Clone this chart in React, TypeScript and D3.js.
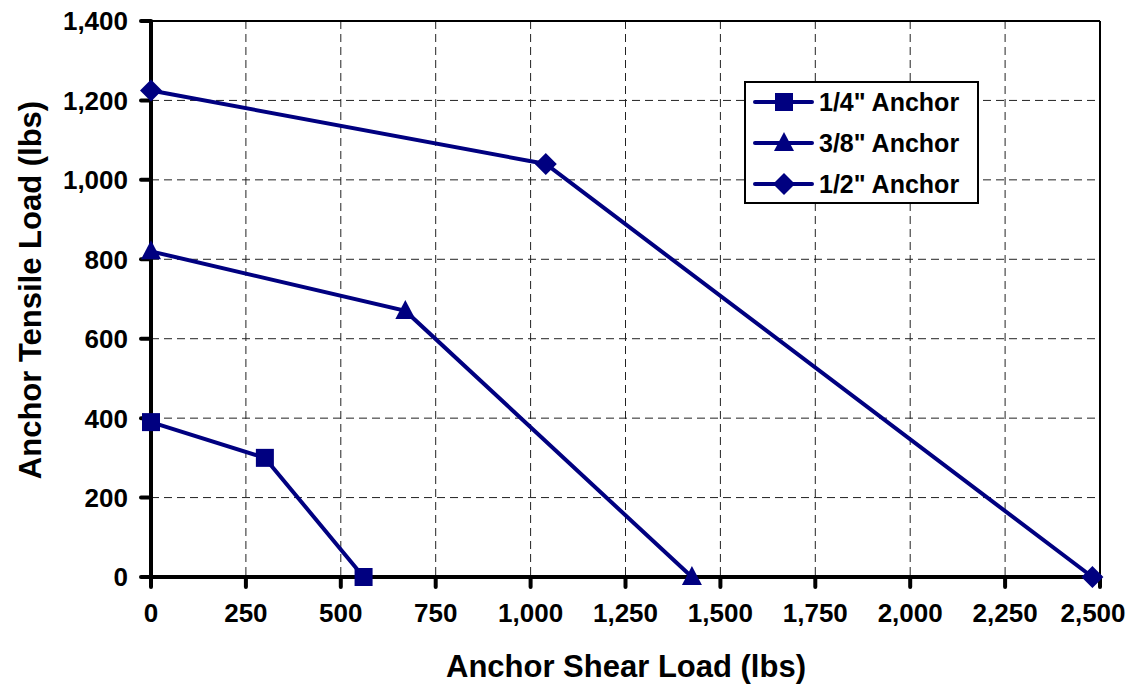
import React from "react";
import * as d3 from "d3";

const seriesNames = ['1/4" Anchor', '3/8" Anchor', '1/2" Anchor'];
const quarterX = [0, 300, 560];
const quarterY = [390, 300, 0];
const threeEighthX = [0, 670, 1425];
const threeEighthY = [820, 670, 0];
const halfX = [0, 1040, 2480];
const halfY = [1225, 1040, 0];
const xTicks = [0, 250, 500, 750, 1000, 1250, 1500, 1750, 2000, 2250, 2500];
const yTicks = [0, 200, 400, 600, 800, 1000, 1200, 1400];
const markerTypes = ["square", "triangle", "diamond"];

const W = 1143, H = 692;
const left = 151, right = 1100, top = 21, bottom = 577;
const NAVY = "#000080";
const FONT = "'Liberation Sans', Arial, sans-serif";

function Marker({ type, x, y }: { type: string; x: number; y: number }) {
  if (type === "square") {
    return <rect x={x - 9} y={y - 9} width={18} height={18} fill={NAVY} />;
  }
  if (type === "triangle") {
    const p = d3.path();
    p.moveTo(x, y - 11);
    p.lineTo(x + 10, y + 8);
    p.lineTo(x - 10, y + 8);
    p.closePath();
    return <path d={p.toString()} fill={NAVY} />;
  }
  const p = d3.path();
  p.moveTo(x, y - 11);
  p.lineTo(x + 11, y);
  p.lineTo(x, y + 11);
  p.lineTo(x - 11, y);
  p.closePath();
  return <path d={p.toString()} fill={NAVY} />;
}

export default function App() {
  const xs = d3.scaleLinear().domain([0, 2500]).range([left, right]);
  const ys = d3.scaleLinear().domain([0, 1400]).range([bottom, top]);
  const fmt = d3.format(",");
  const series = [
    { xs: quarterX, ys: quarterY },
    { xs: threeEighthX, ys: threeEighthY },
    { xs: halfX, ys: halfY },
  ];
  const line = d3
    .line<[number, number]>()
    .x((d) => xs(d[0]))
    .y((d) => ys(d[1]));

  return (
    <svg
      width={W}
      height={H}
      style={{ position: "absolute", left: 0, top: 0, background: "#fff" }}
      fontFamily={FONT}
    >
      <rect x={0} y={0} width={W} height={H} fill="#fff" />
      {/* grid */}
      {xTicks.slice(1, -1).map((t) => (
        <line key={"gx" + t} x1={xs(t)} x2={xs(t)} y1={top} y2={bottom} stroke="#222" strokeWidth={1} strokeDasharray="8,5" />
      ))}
      {yTicks.slice(1, -1).map((t) => (
        <line key={"gy" + t} x1={left} x2={right} y1={ys(t)} y2={ys(t)} stroke="#222" strokeWidth={1} strokeDasharray="8,5" />
      ))}
      {/* borders */}
      <line x1={left} x2={right} y1={top} y2={top} stroke="#000" strokeWidth={2} />
      <line x1={right} x2={right} y1={top} y2={bottom} stroke="#000" strokeWidth={2} />
      {/* axes */}
      <line x1={left} x2={left} y1={top - 1} y2={bottom + 2} stroke="#000" strokeWidth={4} />
      <line x1={left - 2} x2={right + 1} y1={bottom} y2={bottom} stroke="#000" strokeWidth={4} />
      {yTicks.map((t) => (
        <g key={"yt" + t}>
          <line x1={left - 10} x2={left} y1={ys(t)} y2={ys(t)} stroke="#000" strokeWidth={4} strokeLinecap="round" />
          <text x={128} y={ys(t)} dy="0.36em" textAnchor="end" fontSize={26} fontWeight="bold">
            {fmt(t)}
          </text>
        </g>
      ))}
      {xTicks.map((t) => (
        <g key={"xt" + t}>
          <line x1={xs(t)} x2={xs(t)} y1={bottom} y2={bottom + 10} stroke="#000" strokeWidth={4} strokeLinecap="round" />
          <text x={xs(t) - (t === 2500 ? 7 : 0)} y={622} textAnchor="middle" fontSize={26} fontWeight="bold">
            {fmt(t)}
          </text>
        </g>
      ))}
      <text x={626} y={677} textAnchor="middle" fontSize={31} fontWeight="bold">
        Anchor Shear Load (lbs)
      </text>
      <text transform={`translate(41,290) rotate(-90)`} textAnchor="middle" fontSize={31} fontWeight="bold">
        Anchor Tensile Load (lbs)
      </text>
      {/* series */}
      {series.map((s, i) => {
        const pts = s.xs.map((x, j) => [x, s.ys[j]] as [number, number]);
        return (
          <g key={"s" + i}>
            <path d={line(pts) || ""} fill="none" stroke={NAVY} strokeWidth={4} />
            {pts.map((p, j) => (
              <Marker key={j} type={markerTypes[i]} x={xs(p[0])} y={ys(p[1])} />
            ))}
          </g>
        );
      })}
      {/* legend */}
      <rect x={745} y={82} width={233} height={121} fill="#fff" stroke="#000" strokeWidth={2} />
      {seriesNames.map((n, i) => {
        const y = 102 + i * 41;
        return (
          <g key={"lg" + i}>
            <line x1={755} x2={812} y1={y} y2={y} stroke={NAVY} strokeWidth={4} strokeLinecap="round" />
            <Marker type={markerTypes[i]} x={784} y={y} />
            <text x={819} y={y} dy="0.36em" fontSize={25} fontWeight="bold">
              {n}
            </text>
          </g>
        );
      })}
    </svg>
  );
}
